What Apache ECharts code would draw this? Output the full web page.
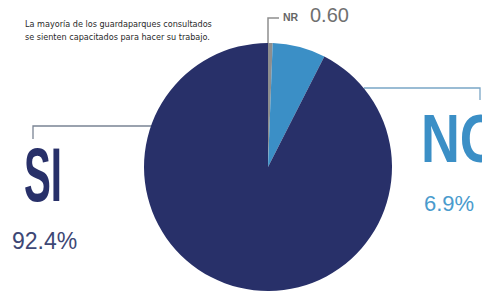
<!DOCTYPE html>
<html>
<head>
<meta charset="utf-8">
<script src="https://cdn.jsdelivr.net/npm/echarts@6/dist/echarts.min.js"></script>
<style>
  html, body { margin: 0; padding: 0; background: #fff; }
  #chart { width: 482px; height: 295px; }
</style>
</head>
<body>
<div id="chart"></div>
<script>
(function() {
  // data
  var names = ['NR', 'NO', 'SI'];
  var values = [0.6, 6.9, 92.4];
  var valueLabels = ['0.60', '6.9%', '92.4%'];
  var titleLines = ['La mayoría de los guardaparques consultados', 'se sienten capacitados para hacer su trabajo.'];

  var navy = '#283069';
  var blue = '#3b8fc6';
  var grey = '#8e8e8e';
  var lineGrey = '#7a8494';

  var chart = echarts.init(document.getElementById('chart'), null, { renderer: 'svg' });

  var pieData = names.map(function(n, i) {
    return { name: n, value: values[i], itemStyle: { color: [grey, blue, navy][i] } };
  });

  var option = {
    animation: false,
    series: [{
      type: 'pie',
      center: [268, 167],
      radius: 124,
      startAngle: 90,
      clockwise: true,
      silent: true,
      label: { show: false },
      labelLine: { show: false },
      data: pieData
    }],
    graphic: [
      // title
      {
        type: 'text', x: 25, y: 24,
        style: { text: titleLines[0], font: '9px "DejaVu Sans Condensed", sans-serif', fill: '#2a2a2a', textVerticalAlign: 'middle' }
      },
      {
        type: 'text', x: 25, y: 37,
        style: { text: titleLines[1], font: '9px "DejaVu Sans Condensed", sans-serif', fill: '#2a2a2a', textVerticalAlign: 'middle' }
      },
      // NR leader + labels
      {
        type: 'polyline',
        shape: { points: [[268, 46], [268, 18], [279, 18]] },
        style: { stroke: grey, lineWidth: 1.5, fill: null }
      },
      {
        type: 'text', x: 283, y: 17,
        style: { text: names[0], font: 'bold 10.5px "Liberation Sans", sans-serif', fill: '#666', textVerticalAlign: 'middle' }
      },
      {
        type: 'text', x: 310, y: 15,
        style: { text: valueLabels[0], font: '20px "Liberation Sans", sans-serif', fill: '#707070', textVerticalAlign: 'middle' }
      },
      // NO leader + labels
      {
        type: 'polyline',
        shape: { points: [[364, 88], [480, 88], [480, 100]] },
        style: { stroke: '#7aa6c6', lineWidth: 1.3, fill: null }
      },
      {
        type: 'text', x: 421, y: 138, scaleX: 0.78,
        style: { text: names[1], font: 'bold 69px "Liberation Sans", sans-serif', fill: blue, textVerticalAlign: 'middle' }
      },
      {
        type: 'text', x: 424, y: 203,
        style: { text: valueLabels[1], font: '22px "Liberation Sans", sans-serif', fill: '#4a9bcd', textVerticalAlign: 'middle' }
      },
      // SI leader + labels
      {
        type: 'polyline',
        shape: { points: [[33, 139], [33, 126], [152, 126]] },
        style: { stroke: lineGrey, lineWidth: 1.3, fill: null }
      },
      {
        type: 'text', x: 24, y: 175, scaleX: 0.53,
        style: { text: names[2], font: 'bold 76px "Liberation Sans", sans-serif', fill: navy, textVerticalAlign: 'middle' }
      },
      {
        type: 'text', x: 12, y: 241,
        style: { text: valueLabels[2], font: '23px "Liberation Sans", sans-serif', fill: '#3d4775', textVerticalAlign: 'middle' }
      }
    ]
  };

  chart.setOption(option);
  window.addEventListener('resize', function() { chart.resize(); });
})();
</script>
</body>
</html>
